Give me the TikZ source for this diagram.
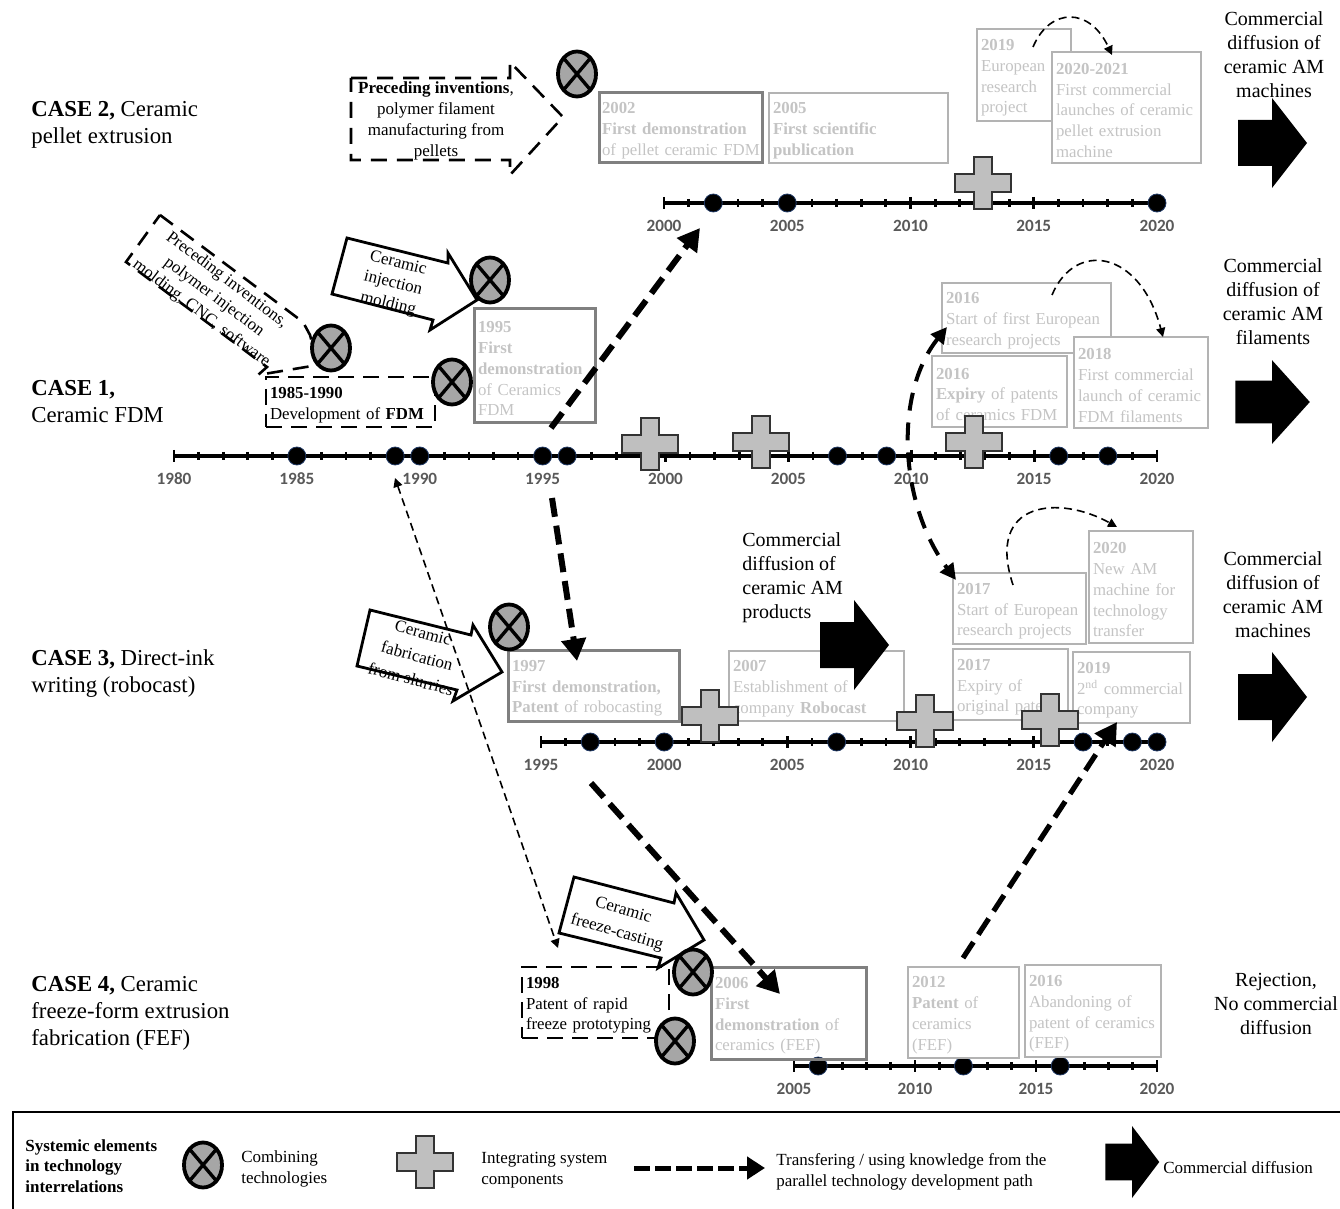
\documentclass[tikz,border=0pt]{standalone}
\usepackage{fontspec}
\setmainfont{Liberation Serif}
\newfontfamily\axisfont{Carlito}
\usetikzlibrary{arrows.meta,shapes.geometric}

\definecolor{thinedge}{HTML}{B3B3B3}
\definecolor{keyedge}{HTML}{808080}
\definecolor{fadetext}{HTML}{C4C4C4}
\definecolor{yeartext}{HTML}{595959}
\definecolor{dotedge}{HTML}{1F3864}

\tikzset{
  boxtext/.style={font=\fontsize{8.4}{10.4}\selectfont, align=left, inner xsep=2pt, inner ysep=0pt, execute at begin node={\rule{0pt}{8.4pt}}},
  thinbox/.style={boxtext, draw=thinedge, line width=0.75pt, fill=white, text=fadetext},
  keybox/.style={boxtext, draw=keyedge, line width=1.5pt, text=fadetext},
  dashbox/.style={boxtext, draw, line width=1.3pt, dash pattern=on 8pt off 4.5pt, text=black},
  arrowtext/.style={font=\fontsize{8.5}{10.5}\selectfont, align=center, inner sep=0pt},
  caselabel/.style={font=\fontsize{11.4}{13.5}\selectfont, align=left, anchor=west, inner sep=0pt},
  difflabel/.style={font=\fontsize{10}{12}\selectfont, align=center, inner sep=0pt},
  legendtext/.style={font=\fontsize{8.5}{10.3}\selectfont, align=left, anchor=west, inner sep=0pt},
  combine/.style={ellipse, draw, line width=1.9pt, fill=black!35, minimum width=19pt, minimum height=22.5pt, inner sep=0pt,
    path picture={\draw[line width=1.7pt] (path picture bounding box.north west) -- (path picture bounding box.south east);
      \draw[line width=1.7pt] (path picture bounding box.north east) -- (path picture bounding box.south west);}},
  yeardot/.style={circle, draw=dotedge, line width=0.4pt, fill=black, minimum size=9pt, inner sep=0pt},
  yearlabel/.style={font=\axisfont\bfseries\fontsize{8.6}{10}\selectfont, text=yeartext, inner sep=0pt},
  transfer/.style={line width=3pt, dash pattern=on 9.5pt off 4.5pt, -{Triangle[length=11pt,width=12pt]}},
  transferthin/.style={line width=2pt, dash pattern=on 9pt off 6pt},
  pathlink/.style={line width=0.8pt, dash pattern=on 4pt off 2.5pt, -{Triangle[length=4.5pt,width=4.5pt]}},
  openarrow/.style={line width=1.3pt, dash pattern=on 8pt off 5pt},
  solidarrow/.style={line width=1.4pt, fill=white},
  plusmark/.pic={\draw[fill=black!25, line width=0.8pt, draw=black!80] (-9,-26) -- (9,-26) -- (9,-9) -- (28,-9) -- (28,9) -- (9,9) -- (9,26) -- (-9,26) -- (-9,9) -- (-28,9) -- (-28,-9) -- (-9,-9) -- cycle;},
  diffarrow/.pic={\fill[black] (-34,-23) -- (0,-23) -- (0,-45) -- (35,0) -- (0,45) -- (0,23) -- (-34,23) -- cycle;},
}

% y line, x of first year, first year, last year, pixels per year
\newcommand{\timeaxis}[5]{%
  \draw[line width=2.2pt] (#2,#1) to ({#2+(#4-#3)*#5},#1);
  \foreach \yr in {#3,...,#4}{
    \draw[line width=1.4pt] ({#2+(\yr-#3)*#5},#1-4) to ({#2+(\yr-#3)*#5},#1+4);
  }
  \pgfmathtruncatemacro{\nextyr}{#3+5}
  \foreach \yr in {#3,\nextyr,...,#4}{
    \draw[line width=1.4pt] ({#2+(\yr-#3)*#5},#1-6) to ({#2+(\yr-#3)*#5},#1+6);
    \node(year\yr-#1) at ({#2+(\yr-#3)*#5},#1+23) [yearlabel] {\yr};
  }
}

\begin{document}
\begin{tikzpicture}[x=0.5pt,y=-0.5pt]
\useasboundingbox (0,0) rectangle (1340,1209);

\node(case2) at (31,125) [caselabel] {\textbf{CASE 2,} Ceramic\\pellet extrusion};
\node(case1) at (31,402) [caselabel] {\textbf{CASE 1,}\\Ceramic FDM};
\node(case3) at (31,674) [caselabel] {\textbf{CASE 3,} Direct-ink\\writing (robocast)};
\node(case4) at (31,1013) [caselabel] {\textbf{CASE 4,} Ceramic\\freeze-form extrusion\\fabrication (FEF)};

\node(out2) at (1274,55) [difflabel] {Commercial\\diffusion of\\ceramic AM\\machines};
\node(out1) at (1273,302) [difflabel] {Commercial\\diffusion of\\ceramic AM\\filaments};
\node(out3) at (1273,595) [difflabel] {Commercial\\diffusion of\\ceramic AM\\machines};
\node(out4) at (1276,1004) [difflabel] {Rejection,\\No commercial\\diffusion};
\node(outmid) at (742,578) [difflabel, align=left, anchor=west] {Commercial\\diffusion of\\ceramic AM\\products};

\pic at (1272,143) {diffarrow};
\pic at (1272,402) [xscale=1.08,yscale=0.93] {diffarrow};
\pic at (1272,697) {diffarrow};

\timeaxis{203}{664}{2000}{2020}{24.65}
\timeaxis{456}{174}{1980}{2020}{24.575}
\timeaxis{742}{541}{1995}{2020}{24.64}
\timeaxis{1066}{794}{2005}{2020}{24.2}

\foreach \yr in {2002,2005,2020} \node(dotb\yr) at ({664+(\yr-2000)*24.65},203) [yeardot] {};
\foreach \yr in {1985,1989,1990,1995,1996,2007,2009,2016,2018} \node(dota\yr) at ({174+(\yr-1980)*24.575},456) [yeardot] {};
\foreach \yr in {1997,2000,2007,2017,2019,2020} \node(dotc\yr) at ({541+(\yr-1995)*24.64},742) [yeardot] {};
\foreach \yr in {2006,2012,2016} \node(dotd\yr) at ({794+(\yr-2005)*24.2},1066) [yeardot] {};

\node(p2002) at (680.5,128) [keybox, text width=78.5pt, minimum height=35pt, inner xsep=1.5pt] {\textbf{2002}\\\textbf{First demonstration}\\\mbox{of pellet ceramic FDM}};
\node(p2005) at (858.5,128) [thinbox, text width=85.5pt, minimum height=35pt] {\textbf{2005}\\\textbf{First scientific}\\\textbf{publication}};
\node(p2019) at (1024,75) [thinbox, text width=43pt, minimum height=46pt] {\textbf{2019}\\European\\research\\project};
\node(p2021) at (1126.5,107.5) [thinbox, text width=70.5pt, minimum height=55.5pt] {\textbf{2020-2021}\\First commercial\\launches of ceramic\\pellet extrusion\\machine};

\node(f1985) at (350.5,402) [dashbox, text width=80.5pt, minimum height=25pt] {\textbf{1985-1990}\\Development of \textbf{FDM}};
\node(f1995) at (534.5,366) [keybox, text width=56.5pt, minimum height=57pt] {\textbf{1995}\\\textbf{First}\\\textbf{demonstration}\\of Ceramics\\FDM};
\node(f2016a) at (1026.5,318) [thinbox, text width=80.5pt, minimum height=35pt] {\textbf{2016}\\Start of first European\\research projects};
\node(f2016b) at (999.5,391.5) [thinbox, text width=63.5pt, minimum height=35.5pt] {\textbf{2016}\\\textbf{Expiry} of patents\\of ceramics FDM};
\node(f2018) at (1141,382.5) [thinbox, text width=63pt, minimum height=45.5pt] {\textbf{2018}\\First commercial\\launch of ceramic\\FDM filaments};

\node(r1997) at (593.5,685.5) [keybox, text width=81.5pt, minimum height=35.5pt] {\textbf{1997}\\\textbf{First demonstration,}\\\textbf{Patent} of robocasting};
\node(r2007) at (816.5,686) [thinbox, text width=83.5pt, minimum height=35pt, fill=none] {\textbf{2007}\\Establishment of\\company \textbf{Robocast}};
\node(r2017a) at (1019.5,608.5) [thinbox, text width=62.5pt, minimum height=35.5pt] {\textbf{2017}\\Start of European\\research projects};
\node(r2020) at (1141,587) [thinbox, text width=48pt, minimum height=56pt] {\textbf{2020}\\New AM\\machine for\\technology\\transfer};
\node(r2017b) at (1010.5,684.5) [thinbox, text width=53.5pt, minimum height=35.5pt] {\textbf{2017}\\Expiry of\\original patent};
\node(r2019) at (1131.5,687.5) [thinbox, text width=54.5pt, minimum height=35.5pt] {\textbf{2019}\\2\textsuperscript{nd} commercial\\company};

\pic at (854,645) {diffarrow};

\node(e1998) at (595.5,1002.5) [dashbox, text width=69.5pt, minimum height=35.5pt] {\textbf{1998}\\Patent of rapid\\freeze prototyping};
\node(e2006) at (788.5,1013) [keybox, text width=73.5pt, minimum height=46pt] {\textbf{2006}\\\textbf{First}\\\textbf{demonstration} of\\ceramics (FEF)};
\node(e2012) at (963.5,1012.5) [thinbox, text width=51.5pt, minimum height=45.5pt] {\textbf{2012}\\\textbf{Patent} of\\ceramics\\(FEF)};
\node(e2016) at (1093,1011) [thinbox, text width=64pt, minimum height=46pt] {\textbf{2016}\\Abandoning of\\patent of ceramics\\(FEF)};

\pic at (983,183) {plusmark};
\pic at (650,444) {plusmark};
\pic at (761,442) {plusmark};
\pic at (974,442) {plusmark};
\pic at (710,716) {plusmark};
\pic at (925,721) {plusmark};
\pic at (1050,720) {plusmark};

\draw[openarrow] (351,78) -- (510,78) -- (510,62) -- (563,117) -- (510,175) -- (510,160) -- (351,160) -- cycle;
\node(pre2) at (436,120.5) [arrowtext] {\textbf{Preceding inventions},\\polymer filament\\manufacturing from\\pellets};
\draw[openarrow] (160,215) -- (303,322) -- (310,335) -- (318,365) -- (258,375) -- (267,367) -- (126,262) -- cycle;
\node(pre1) at (214,297) [arrowtext, rotate=-37] {Preceding inventions,\\polymer injection\\molding, CNC, software};

\draw[solidarrow] (347,238) -- (448,263) -- (448,253) -- (477,300) -- (430,330) -- (433,320) -- (332,294) -- cycle;
\node(inject) at (393,284) [arrowtext, rotate=-14] {Ceramic\\injection\\molding};
\draw[solidarrow] (370,610) -- (471,635) -- (473,625) -- (502,672) -- (453,701) -- (457,690) -- (357,666) -- cycle;
\node(slurry) at (417,656) [arrowtext, rotate=-15, font=\fontsize{8.5}{12}\selectfont] {Ceramic\\fabrication\\from slurries};
\draw[solidarrow] (574,877) -- (674,903) -- (676,893) -- (704,940) -- (658,968) -- (661,958) -- (559,933) -- cycle;
\node(freeze) at (620,922) [arrowtext, rotate=-16, font=\fontsize{8.5}{11.5}\selectfont] {Ceramic\\freeze-casting};

\node(x2) at (577,74) [combine] {};
\node(x1a) at (331,348) [combine] {};
\node(x1b) at (490,280) [combine] {};
\node(x1c) at (452,382) [combine] {};
\node(x3) at (509,627) [combine] {};
\node(x4a) at (693,972) [combine] {};
\node(x4b) at (675,1041) [combine] {};

\coordinate(t1a) at (551,428);
\coordinate(t1b) at (700,228);
\coordinate(t2a) at (552,498);
\coordinate(t2b) at (577,661);
\coordinate(t3a) at (591,783);
\coordinate(t3b) at (780,994);
\coordinate(t4a) at (963,958);
\coordinate(t4b) at (1117,722);
\coordinate(t5a) at (947,327);
\coordinate(t5b) at (956,580);
\draw[transfer] (t1a) to (t1b);
\draw[transfer] (t2a) to (t2b);
\draw[transfer] (t3a) to (t3b);
\draw[transfer, line width=2.6pt] (t4a) to (t4b);
\draw[transferthin, {Triangle[length=8pt,width=8pt]}-{Triangle[length=8pt,width=8pt]}] (t5a) .. controls (893,395) and (900,505) .. (t5b);

\coordinate(l1a) at (395,478);
\coordinate(l1b) at (558,948);
\draw[pathlink, {Triangle[length=4.5pt,width=4.5pt]}-{Triangle[length=4.5pt,width=4.5pt]}] (l1a) to (l1b);

\coordinate(c2a) at (1033,47);
\coordinate(c2b) at (1112,55);
\coordinate(c1a) at (1052,295);
\coordinate(c1b) at (1163,337);
\coordinate(c3a) at (1013,585);
\coordinate(c3b) at (1117,527);
\draw[pathlink] (c2a) .. controls (1050,7) and (1090,7) .. (c2b);
\draw[pathlink] (c1a) .. controls (1075,240) and (1140,250) .. (c1b);
\draw[pathlink] (c3a) .. controls (985,500) and (1060,495) .. (c3b);

\draw[line width=0.75pt] (13,1209) -- (13,1112) -- (1340,1112);
\node(legtitle) at (25,1166) [legendtext] {\textbf{Systemic elements}\\\textbf{in technology}\\\textbf{interrelations}};
\node(legx) at (203,1165) [combine] {};
\node(legxt) at (241,1169) [legendtext] {Combining\\technologies};
\pic at (425,1162) {plusmark};
\node(legp) at (481,1170) [legendtext] {Integrating system\\components};
\coordinate(lega) at (634,1168);
\coordinate(legb) at (765,1168);
\draw[line width=2.5pt, dash pattern=on 8pt off 2.5pt, -{Triangle[length=9pt,width=11pt]}] (lega) to (legb);
\node(legt) at (776,1172) [legendtext] {Transfering / using knowledge from the\\parallel technology development path};
\pic at (1132,1162) [xscale=0.78,yscale=0.8] {diffarrow};
\node(legd) at (1163,1168) [legendtext] {Commercial diffusion};

\end{tikzpicture}
\end{document}
